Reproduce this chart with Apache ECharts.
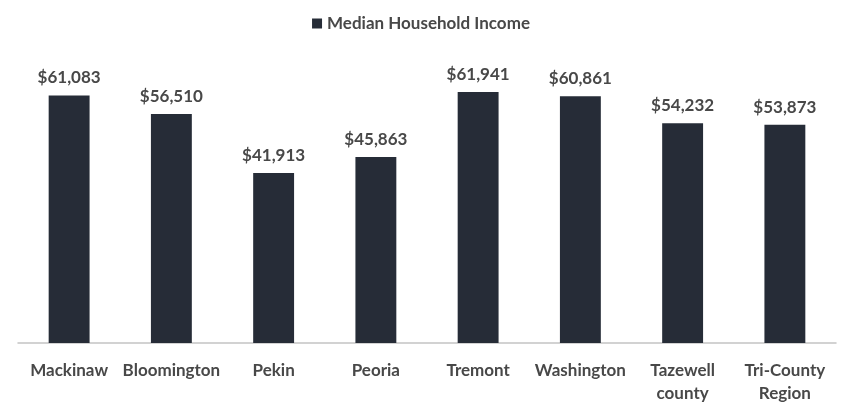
<!DOCTYPE html>
<html>
<head>
<meta charset="utf-8">
<script src="https://cdn.jsdelivr.net/npm/echarts@6/dist/echarts.min.js"></script>
<style>
  html, body { margin: 0; padding: 0; background: #ffffff; }
  #chart { width: 842px; height: 405px; }
</style>
</head>
<body>
<div id="chart"></div>
<script>
// Median household income by community
const categories = ['Mackinaw', 'Bloomington', 'Pekin', 'Peoria', 'Tremont', 'Washington', 'Tazewell\ncounty', 'Tri-County\nRegion'];
const incomes = [61083, 56510, 41913, 45863, 61941, 60861, 54232, 53873];
const seriesName = 'Median Household Income';

const chart = echarts.init(document.getElementById('chart'), null, { renderer: 'canvas' });

const fontFamily = 'Lato, "Open Sans", sans-serif';
const textColor = '#484848';

chart.setOption({
  animation: false,
  backgroundColor: '#ffffff',
  legend: {
    top: 10,
    left: 'center',
    itemWidth: 10,
    itemHeight: 10,
    itemGap: 10,
    icon: 'rect',
    textStyle: { fontFamily: fontFamily, fontSize: 17, fontWeight: 'bold', color: textColor },
    data: [seriesName]
  },
  grid: {
    left: 18,
    right: 6,
    top: 39,
    bottom: 60.5,
    containLabel: false
  },
  xAxis: {
    type: 'category',
    data: categories,
    axisLine: { lineStyle: { color: '#c4c4c4', width: 1.5 } },
    axisTick: { show: false },
    axisLabel: {
      interval: 0,
      margin: 16,
      fontFamily: fontFamily,
      fontSize: 17,
      fontWeight: 'bold',
      lineHeight: 23,
      color: textColor
    }
  },
  yAxis: {
    type: 'value',
    min: 0,
    max: 75000,
    show: false,
    splitLine: { show: false }
  },
  series: [{
    name: seriesName,
    type: 'bar',
    data: incomes,
    barWidth: '40%',
    itemStyle: { color: '#262c37' },
    label: {
      show: true,
      position: 'top',
      distance: 9,
      fontFamily: fontFamily,
      fontSize: 17,
      fontWeight: 'bold',
      color: textColor,
      formatter: p => '$' + p.value.toLocaleString('en-US')
    }
  }]
});
</script>
</body>
</html>
